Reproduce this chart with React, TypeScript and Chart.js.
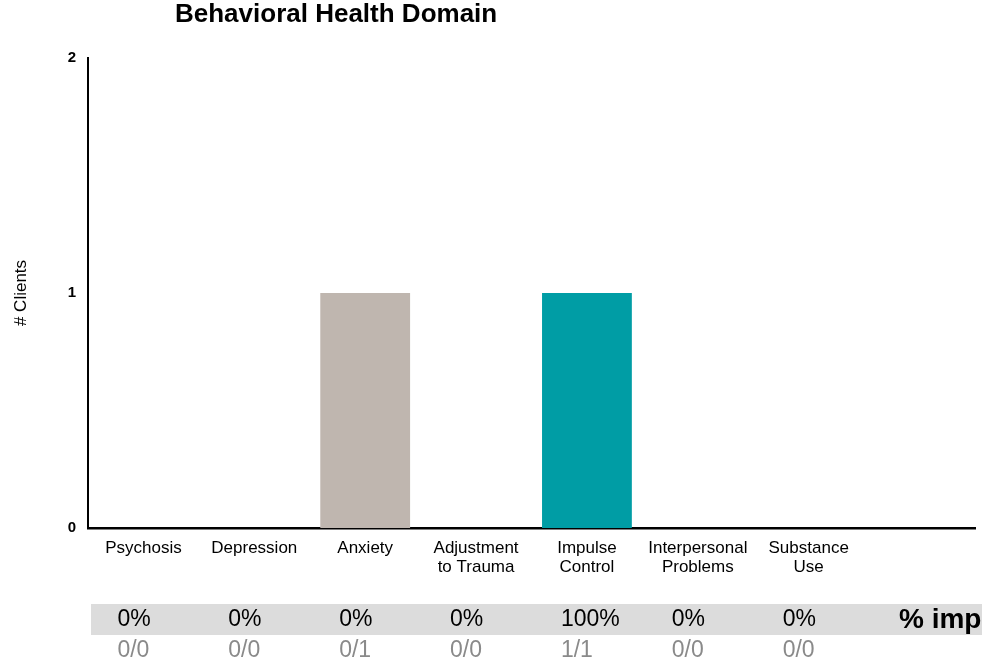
import React, { useEffect, useRef } from "react";
import { Chart, registerables } from "chart.js";

Chart.register(...registerables);

const TITLE = "Behavioral Health Domain";
const Y_TITLE = "# Clients";
const categories: (string | string[])[] = [
  "Psychosis",
  "Depression",
  "Anxiety",
  ["Adjustment", "to Trauma"],
  ["Impulse", "Control"],
  ["Interpersonal", "Problems"],
  ["Substance", "Use"],
  "",
];
const clients: (number | null)[] = [0, 0, 1, 0, 1, 0, 0, null];
const barColors = ["#BFB6AF", "#BFB6AF", "#BFB6AF", "#BFB6AF", "#009DA5", "#BFB6AF", "#BFB6AF", "#BFB6AF"];
const percentImproved = ["0%", "0%", "0%", "0%", "100%", "0%", "0%"];
const fractions = ["0/0", "0/0", "0/1", "0/0", "1/1", "0/0", "0/0"];
const ROW_LABEL = "% improved";
const yTicks = [0, 1, 2];

const FONT = "'Liberation Sans', Arial, Helvetica, sans-serif";

const tablePlugin = {
  id: "tablePlugin",
  afterDraw(chart: any) {
    const ctx = chart.ctx as CanvasRenderingContext2D;
    const xs = chart.scales.x;
    ctx.save();
    // title
    ctx.fillStyle = "#000";
    ctx.font = `bold 26px ${FONT}`;
    ctx.textAlign = "left";
    ctx.textBaseline = "middle";
    ctx.fillText(TITLE, 175, 15);
    // band
    ctx.fillStyle = "#DCDCDC";
    ctx.fillRect(91, 604, chart.width - 91, 31);
    ctx.font = `23px ${FONT}`;
    ctx.textBaseline = "middle";
    for (let i = 0; i < percentImproved.length; i++) {
      const x = xs.getPixelForValue(i) - 26;
      ctx.fillStyle = "#000";
      ctx.fillText(percentImproved[i], x, 620);
      ctx.fillStyle = "#8A8A8A";
      ctx.fillText(fractions[i], x, 651);
    }
    ctx.fillStyle = "#000";
    ctx.font = `bold 28px ${FONT}`;
    ctx.fillText(ROW_LABEL, 899, 620);
    ctx.restore();
  },
};

export default function App() {
  const ref = useRef<HTMLCanvasElement | null>(null);
  useEffect(() => {
    if (!ref.current) return;
    const chart = new Chart(ref.current, {
      type: "bar",
      data: {
        labels: categories,
        datasets: [
          {
            data: clients,
            backgroundColor: barColors,
            categoryPercentage: 1,
            barPercentage: 0.81,
          },
        ],
      },
      options: {
        animation: false,
        responsive: false,
        devicePixelRatio: 1,
        layout: { padding: { left: 0, right: 7, top: 58, bottom: 73 } },
        plugins: { legend: { display: false }, tooltip: { enabled: false }, title: { display: false } },
        scales: {
          x: {
            grid: { display: false, drawTicks: false },
            border: { display: true, color: "#000", width: 2.5 },
            ticks: {
              autoSkip: false,
              maxRotation: 0,
              minRotation: 0,
              padding: 11,
              color: "#000",
              font: { family: FONT, size: 17, lineHeight: 1.12 },
            },
            afterFit(scale: any) {
              scale.height = 70;
            },
          },
          y: {
            min: 0,
            max: 2,
            afterBuildTicks(scale: any) {
              scale.ticks = yTicks.map((v) => ({ value: v }));
            },
            grid: { display: false, drawTicks: false },
            border: { display: true, color: "#000", width: 2 },
            ticks: {
              padding: 12,
              color: "#000",
              font: { family: FONT, size: 15, weight: "bold" },
            },
            title: {
              display: true,
              text: Y_TITLE,
              color: "#000",
              padding: { top: 11, bottom: 0 },
              font: { family: FONT, size: 17 },
            },
            afterFit(scale: any) {
              scale.width = 88;
            },
          },
        },
      },
      plugins: [tablePlugin],
    });
    return () => chart.destroy();
  }, []);
  return (
    <div style={{ position: "absolute", left: 0, top: 0, width: 982, height: 671, background: "#fff" }}>
      <canvas ref={ref} width={982} height={671} style={{ width: 982, height: 671, display: "block" }} />
    </div>
  );
}
